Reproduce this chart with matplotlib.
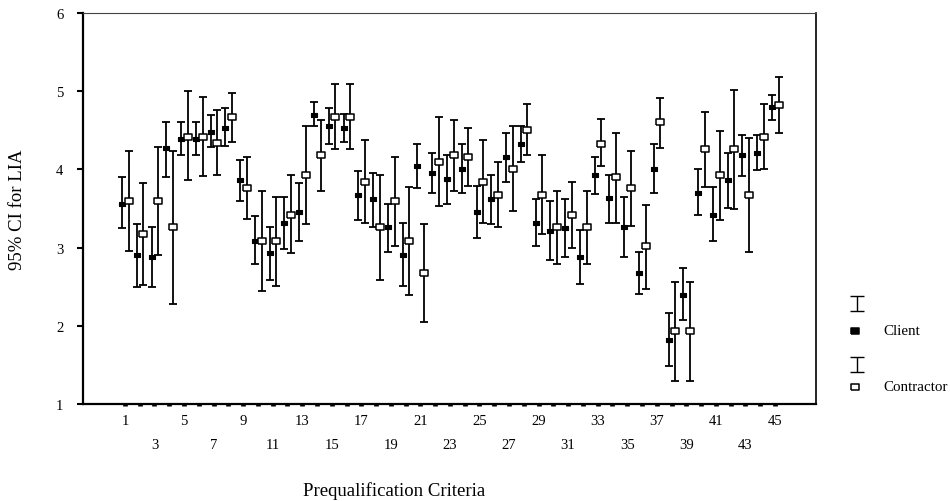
import numpy as np
import matplotlib
matplotlib.use("Agg")
import matplotlib.pyplot as plt

plt.rcParams["font.family"] = ["Liberation Serif", "DejaVu Serif"]

# 45 prequalification criteria
criteria = list(range(1, 46))

# Client: mean and 95% CI bounds
client_mean = [3.56, 2.90, 2.88, 4.27, 4.39, 4.39, 4.48, 4.53, 3.86, 3.09,
               2.93, 3.32, 3.46, 4.70, 4.56, 4.53, 3.67, 3.62, 3.26, 2.91,
               4.04, 3.95, 3.88, 4.00, 3.46, 3.62, 4.16, 4.33, 3.32, 3.21,
               3.25, 2.88, 3.93, 3.63, 3.26, 2.68, 4.00, 1.82, 2.40, 3.70,
               3.42, 3.86, 4.18, 4.21, 4.80]
client_lo = [3.25, 2.49, 2.49, 3.90, 4.19, 4.18, 4.29, 4.30, 3.60, 2.79,
             2.59, 2.98, 3.09, 4.55, 4.33, 4.35, 3.35, 3.26, 2.94, 2.51,
             3.76, 3.70, 3.56, 3.70, 3.12, 3.30, 3.84, 4.10, 3.02, 2.84,
             2.88, 2.53, 3.69, 3.31, 2.88, 2.41, 3.70, 1.49, 2.08, 3.42,
             3.09, 3.51, 3.91, 3.99, 4.63]
client_hi = [3.90, 3.30, 3.26, 4.61, 4.60, 4.61, 4.69, 4.78, 4.12, 3.40,
             3.26, 3.65, 3.83, 4.86, 4.78, 4.71, 3.98, 3.96, 3.56, 3.31,
             4.32, 4.21, 4.18, 4.32, 3.79, 3.93, 4.46, 4.56, 3.62, 3.59,
             3.62, 3.23, 4.16, 3.93, 3.65, 2.95, 4.32, 2.16, 2.74, 4.00,
             3.77, 4.21, 4.44, 4.44, 4.95]

# Contractor: mean and 95% CI bounds
contr_mean = [3.60, 3.17, 3.60, 3.26, 4.42, 4.42, 4.34, 4.67, 3.76, 3.09,
              3.09, 3.42, 3.93, 4.18, 4.67, 4.67, 3.84, 3.26, 3.60, 3.09,
              2.68, 4.09, 4.18, 4.16, 3.84, 3.67, 4.00, 4.51, 3.67, 3.26,
              3.42, 3.26, 4.33, 3.90, 3.76, 3.02, 4.60, 1.93, 1.93, 4.26,
              3.93, 4.26, 3.67, 4.42, 4.82]
contr_lo = [2.96, 2.52, 2.91, 2.28, 3.86, 3.91, 3.93, 4.35, 3.37, 2.45,
            2.51, 2.93, 3.30, 3.72, 4.26, 4.26, 3.31, 2.59, 3.02, 2.40,
            2.05, 3.53, 3.72, 3.79, 3.31, 3.26, 3.47, 4.18, 3.17, 2.79,
            3.00, 2.79, 4.04, 3.31, 3.28, 2.47, 4.27, 1.30, 1.30, 3.77,
            3.35, 3.49, 2.94, 4.00, 4.46]
contr_hi = [4.23, 3.83, 4.29, 4.24, 5.00, 4.93, 4.76, 4.98, 4.16, 3.72,
            3.65, 3.93, 4.56, 4.63, 5.09, 5.09, 4.37, 3.93, 4.16, 3.77,
            3.30, 4.67, 4.63, 4.53, 4.37, 4.09, 4.55, 4.84, 4.18, 3.73,
            3.84, 3.73, 4.65, 4.46, 4.23, 3.54, 4.91, 2.56, 2.56, 4.73,
            4.49, 5.02, 4.40, 4.84, 5.18]

x = np.array(criteria, dtype=float)
cm, cl, ch = map(np.array, (client_mean, client_lo, client_hi))
km, kl, kh = map(np.array, (contr_mean, contr_lo, contr_hi))

# wide rectangle marker like the SPSS output
rect = [(-1, -0.7), (1, -0.7), (1, 0.7), (-1, 0.7), (-1, -0.7)]

fig = plt.figure(figsize=(9.5, 5.02), dpi=100)
ax = fig.add_axes([83 / 950, 1 - 405 / 502, 733 / 950, 391 / 502])

# error bars
ax.errorbar(x - 0.2, cm, yerr=[cm - cl, ch - cm], fmt="none", ecolor="black",
            elinewidth=1.3, capsize=3.2, capthick=1.3, zorder=2)
ax.errorbar(x + 0.25, km, yerr=[km - kl, kh - km], fmt="none", ecolor="black",
            elinewidth=1.3, capsize=3.2, capthick=1.3, zorder=2)
# means
ax.plot(x - 0.2, cm, linestyle="none", marker=rect, markersize=5,
        markerfacecolor="black", markeredgecolor="black", markeredgewidth=0.8, zorder=3)
ax.plot(x + 0.25, km, linestyle="none", marker=rect, markersize=5.6,
        markerfacecolor="white", markeredgecolor="black", markeredgewidth=1.1, zorder=3)

ax.set_xlim(-1.84, 47.78)
ax.set_ylim(1, 6)

# y axis
ax.set_yticks([1, 2, 3, 4, 5, 6])
ax.tick_params(axis="y", length=4.3, width=1.5, pad=10, labelsize=10.5)

# x axis: two staggered rows of labels
ax.set_xticks(criteria)
ax.set_xticklabels([str(c) if c % 4 == 1 else "" for c in criteria])
ax.xaxis.remove_overlapping_locs = False
row2 = [c for c in criteria if c % 4 == 3]
ax.set_xticks(row2, minor=True)
ax.set_xticklabels([str(c) for c in row2], minor=True)
ax.tick_params(axis="x", which="major", length=1.6, width=3.4, pad=5.5, labelsize=10.5)
ax.tick_params(axis="x", which="minor", length=0, pad=24.5, labelsize=10.5)

for side in ("left", "bottom"):
    ax.spines[side].set_linewidth(1.6)
ax.spines["right"].set_linewidth(1.2)
ax.spines["top"].set_linewidth(0.8)
ax.spines["top"].set_color("#444444")

fig.text(18 / 950, 1 - 210 / 502, "95% CI for LIA", rotation=90,
         ha="center", va="center", fontsize=13.5)
fig.text(394 / 950, 1 - 491 / 502, "Prequalification Criteria",
         ha="center", va="center", fontsize=13.5)

# legend drawn in figure pixel space
lg = fig.add_axes([0, 0, 1, 1], facecolor="none")
lg.set_xlim(0, 950)
lg.set_ylim(502, 0)
lg.axis("off")
for top, mid, face, txt in ((297, 332, "black", "Client"),
                            (358, 388, "white", "Contractor")):
    lg.errorbar([857], [top + 7.5], yerr=[[7.5], [7.5]], fmt="none", ecolor="black",
                elinewidth=1.0, capsize=5, capthick=1.0)
    lg.plot([855], [mid], linestyle="none", marker=rect, markersize=6,
            markerfacecolor=face, markeredgecolor="black", markeredgewidth=1.1)
    lg.text(883, mid, txt, ha="left", va="center", fontsize=10.8)

fig.savefig("out.png", dpi=100)
